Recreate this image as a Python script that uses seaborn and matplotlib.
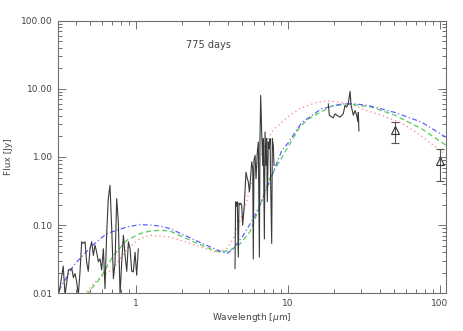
import numpy as np
import pandas as pd
import matplotlib
matplotlib.use('Agg')
import matplotlib.pyplot as plt
import seaborn as sns

# observed spectrum, three pieces (wavelength in micron, flux in Jy)
opt_wl = [0.313, 0.332, 0.341, 0.359, 0.378, 0.387, 0.397, 0.407, 0.417, 0.428,
          0.439, 0.450, 0.462, 0.473, 0.485, 0.498, 0.511, 0.524, 0.537, 0.551,
          0.565, 0.580, 0.594, 0.610, 0.625, 0.641, 0.657, 0.674, 0.692, 0.710,
          0.728, 0.746, 0.765, 0.785, 0.805, 0.826, 0.847, 0.869, 0.891, 0.914,
          0.937, 0.960, 0.985, 1.01, 1.035]
opt_flux = [0.0105, 0.025, 0.0094, 0.022, 0.023, 0.017, 0.0195, 0.0147, 0.0094, 0.0206,
            0.057, 0.054, 0.057, 0.029, 0.021, 0.045, 0.057, 0.036, 0.051, 0.040,
            0.029, 0.032, 0.022, 0.045, 0.0117, 0.075, 0.245, 0.384, 0.089, 0.0164,
            0.029, 0.245, 0.111, 0.0094, 0.029, 0.071, 0.036, 0.021, 0.057, 0.045,
            0.021, 0.0206, 0.040, 0.0184, 0.045]

mir_wl = [4.48, 4.52, 4.58, 4.64, 4.71, 4.76, 4.82, 4.89, 4.96, 5.03, 5.14, 5.21,
          5.29, 5.40, 5.48, 5.57, 5.62, 5.77, 5.86, 5.91, 5.97, 6.07, 6.16, 6.28,
          6.38, 6.48, 6.54, 6.61, 6.71, 6.82, 6.88, 6.99, 7.06, 7.17, 7.24, 7.31,
          7.42, 7.53, 7.62, 7.69, 7.81, 7.89, 8.0, 8.09]
mir_flux = [0.023, 0.22, 0.19, 0.22, 0.034, 0.21, 0.20, 0.21, 0.195, 0.10, 0.175, 0.31,
            0.60, 0.48, 0.43, 0.31, 0.38, 0.85, 0.67, 0.032, 0.89, 1.06, 0.48, 1.18,
            1.66, 0.034, 1.86, 8.0, 2.33, 0.75, 1.86, 0.063, 2.33, 0.75, 1.86, 0.22,
            1.66, 1.32, 1.86, 0.40, 0.054, 1.86, 1.48, 0.75]

fir_wl = [18.4, 18.7, 19.8, 20.4, 20.9, 22.0, 23.1, 23.7, 24.3, 24.9, 25.6, 26.0,
          26.9, 27.6, 28.3, 28.8, 29.0, 29.3]
fir_flux = [6.05, 4.1, 3.75, 4.3, 4.1, 3.85, 4.3, 5.7, 5.4, 6.0, 9.2, 5.7,
            4.1, 4.8, 4.1, 3.3, 4.5, 2.4]

# photometry with error bars
phot_wl = [50.5, 100.0]
phot_flux = [2.48, 0.87]
phot_lo = [1.6, 0.45]
phot_hi = [3.24, 1.31]

# model SEDs
blue_wl = [0.31, 0.39, 0.52, 0.64, 0.87, 1.06, 1.25, 1.45, 1.67, 2.27, 3.07, 3.95,
           4.37, 5.08, 5.91, 6.54, 8.0, 9.1, 10.0, 12.3, 16.6, 22.5, 27.0, 33.8,
           50.5, 75.6, 109.0]
blue_flux = [0.011, 0.026, 0.051, 0.075, 0.094, 0.102, 0.100, 0.097, 0.089, 0.065, 0.048, 0.038,
             0.045, 0.071, 0.125, 0.196, 0.60, 1.25, 1.6, 3.2, 5.1, 6.0, 6.05, 5.7,
             4.5, 3.25, 1.96]

green_wl = [0.47, 0.58, 0.71, 0.87, 1.06, 1.24, 1.45, 1.67, 2.27, 3.07, 3.57, 4.16,
            4.83, 5.62, 6.2, 7.62, 9.8, 12.0, 13.6, 19.4, 24.8, 35.5, 50.5, 75.6, 109.0]
green_flux = [0.0095, 0.0165, 0.036, 0.060, 0.075, 0.082, 0.084, 0.082, 0.060, 0.045, 0.040, 0.043,
              0.053, 0.080, 0.14, 0.50, 1.3, 2.8, 3.6, 5.6, 6.0, 5.4, 4.1, 2.6, 1.5]

red_wl = [0.45, 0.56, 0.71, 0.87, 1.06, 1.24, 1.45, 1.67, 2.27, 3.07, 3.39, 3.95,
          4.37, 5.0, 5.35, 5.62, 6.54, 7.4, 8.0, 10.0, 12.0, 15.4, 17.5, 19.8,
          25.6, 33.0, 42.4, 55.0, 70.0, 90.0, 109.0]
red_flux = [0.0095, 0.016, 0.023, 0.045, 0.063, 0.071, 0.069, 0.067, 0.054, 0.043, 0.040, 0.045,
            0.063, 0.14, 0.22, 0.35, 1.0, 1.86, 2.5, 3.9, 5.2, 6.3, 6.6, 6.55,
            6.0, 4.8, 4.0, 3.2, 2.3, 1.5, 1.1]

sns.set_style('ticks')
plt.rcParams['font.family'] = ['DejaVu Sans']
plt.rcParams['font.size'] = 6.5

axcol = '#6e6e6e'
fig = plt.figure(figsize=(4.63, 3.31), dpi=100)
ax = fig.add_axes([0.1259, 0.1139, 0.8367, 0.8236])

# models
sns.lineplot(x=red_wl, y=red_flux, ax=ax, color='#ff7f7f', lw=0.9,
             linestyle=(0, (1, 2.5)), sort=False, estimator=None)
sns.lineplot(x=green_wl, y=green_flux, ax=ax, color='#55cc55', lw=0.9,
             linestyle=(0, (4, 2.5)), sort=False, estimator=None)
sns.lineplot(x=blue_wl, y=blue_flux, ax=ax, color='#6060ff', lw=0.9,
             linestyle=(0, (4, 2, 1, 2)), sort=False, estimator=None)

# spectrum
for wl, fl in [(opt_wl, opt_flux), (mir_wl, mir_flux), (fir_wl, fir_flux)]:
    sns.lineplot(x=wl, y=fl, ax=ax, color='#3a3a3a', lw=0.8, sort=False, estimator=None)

# photometry
yerr = [np.array(phot_flux) - np.array(phot_lo), np.array(phot_hi) - np.array(phot_flux)]
ax.errorbar(phot_wl, phot_flux, yerr=yerr, fmt='^', mfc='none', mec='#333333',
            ecolor='#555555', ms=6, mew=0.8, elinewidth=0.8, capsize=3, capthick=0.8)

ax.set_xscale('log')
ax.set_yscale('log')
ax.set_xlim(0.308, 109)
ax.set_ylim(0.01, 100)

ax.set_xticks([1, 10, 100])
ax.set_xticklabels(['1', '10', '100'])
ax.set_yticks([0.01, 0.1, 1, 10, 100])
ax.set_yticklabels(['0.01', '0.10', '1.00', '10.00', '100.00'])

ax.tick_params(which='both', direction='in', top=True, right=True, color=axcol,
               labelcolor='#444444', labelsize=6.5, width=0.7)
ax.tick_params(which='major', length=6, pad=4)
ax.tick_params(which='minor', length=3)
for s in ax.spines.values():
    s.set_color(axcol)
    s.set_linewidth(0.8)

ax.set_xlabel(r'Wavelength [$\mu$m]', color='#444444', fontsize=6.5, labelpad=2)
ax.set_ylabel('Flux [Jy]', color='#444444', fontsize=6.5, labelpad=6)
ax.text(2.13, 43.9, '775 days', va='center', ha='left', color='#444444', fontsize=7)

fig.savefig('out.png', dpi=100)
